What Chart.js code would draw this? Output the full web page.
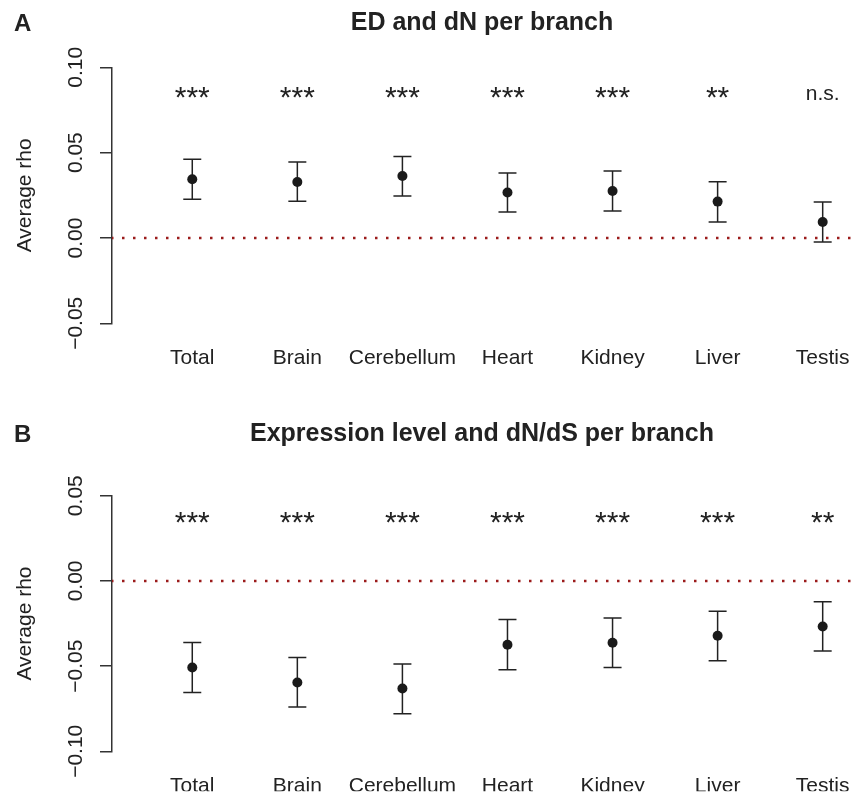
<!DOCTYPE html>
<html>
<head>
<meta charset="utf-8">
<script src="https://cdn.jsdelivr.net/npm/chart.js@4.4.0/dist/chart.umd.min.js"></script>
<style>
  body { margin: 0; background: #fff; }
  #wrap { position: relative; width: 852px; height: 795px; }
  canvas { position: absolute; left: 0; }
  #chartA { top: 0; }
  #chartB { top: 400px; }
</style>
</head>
<body>
<div id="wrap">
  <canvas id="chartA" width="852" height="400"></canvas>
  <canvas id="chartB" width="852" height="395"></canvas>
</div>
<script>
// ---- data ----
const categories = ["Total", "Brain", "Cerebellum", "Heart", "Kidney", "Liver", "Testis"];

// panel A: ED and dN
const edMean  = [0.0344, 0.0328, 0.0363, 0.0266, 0.0275, 0.0213, 0.0094];
const edLower = [0.0227, 0.0215, 0.0246, 0.0152, 0.0158, 0.0094, -0.0023];
const edUpper = [0.0461, 0.0445, 0.0477, 0.0380, 0.0392, 0.0330, 0.0211];
const edSig   = ["***", "***", "***", "***", "***", "**", "n.s."];
const edTicks = [-0.05, 0.00, 0.05, 0.10];

// panel B: expression level and dN/dS
const dnMean  = [-0.0508, -0.0596, -0.0631, -0.0375, -0.0363, -0.0322, -0.0268];
const dnLower = [-0.0655, -0.0740, -0.0780, -0.0522, -0.0508, -0.0469, -0.0412];
const dnUpper = [-0.0362, -0.0450, -0.0487, -0.0227, -0.0217, -0.0178, -0.0123];
const dnSig   = ["***", "***", "***", "***", "***", "***", "**"];
const dnTicks = [-0.10, -0.05, 0.00, 0.05];

const FONT = "'Liberation Sans', Arial, Helvetica, sans-serif";
const INK = "#222";
const X_MIN = -0.764, X_MAX = 6.279;

function fmt(v) {
  const s = Math.abs(v).toFixed(2);
  return (v < -1e-9 ? "\u2212" : "") + s;
}

// error bars, significance marks, rotated y labels, titles
const decorPlugin = {
  id: "decor",
  beforeDatasetsDraw(chart, args, opts) {
    const ctx = chart.ctx, xs = chart.scales.x, ys = chart.scales.y;
    ctx.save();
    ctx.strokeStyle = INK;
    ctx.lineWidth = 1.5;
    opts.lower.forEach((lo, i) => {
      const px = xs.getPixelForValue(i);
      const y1 = ys.getPixelForValue(lo);
      const y2 = ys.getPixelForValue(opts.upper[i]);
      ctx.beginPath();
      ctx.moveTo(px, y1); ctx.lineTo(px, y2);
      ctx.moveTo(px - 9, y1); ctx.lineTo(px + 9, y1);
      ctx.moveTo(px - 9, y2); ctx.lineTo(px + 9, y2);
      ctx.stroke();
    });
    ctx.restore();
  },
  afterDraw(chart, args, opts) {
    const ctx = chart.ctx, xs = chart.scales.x, ys = chart.scales.y;
    const area = chart.chartArea;
    ctx.save();
    ctx.fillStyle = INK;

    // significance marks
    const sy = ys.getPixelForValue(opts.sigLevel);
    ctx.textAlign = "center";
    ctx.textBaseline = "alphabetic";
    opts.sig.forEach((s, i) => {
      const px = xs.getPixelForValue(i);
      if (s.indexOf("*") >= 0) {
        ctx.font = "30px " + FONT;
        ctx.fillText(s, px, sy + 14);
      } else {
        ctx.font = "21px " + FONT;
        ctx.fillText(s, px, sy + 7);
      }
    });

    // rotated y tick labels
    ctx.font = "21px " + FONT;
    opts.ticks.forEach(v => {
      const py = ys.getPixelForValue(v);
      ctx.save();
      ctx.translate(82, py);
      ctx.rotate(-Math.PI / 2);
      ctx.textAlign = "center";
      ctx.textBaseline = "alphabetic";
      ctx.fillText(fmt(v), 0, 0);
      ctx.restore();
    });

    // y axis title
    ctx.save();
    ctx.translate(31, (area.top + area.bottom) / 2);
    ctx.rotate(-Math.PI / 2);
    ctx.textAlign = "center";
    ctx.textBaseline = "alphabetic";
    ctx.fillText("Average rho", 0, 0);
    ctx.restore();

    // panel title and letter
    ctx.font = "bold 25px " + FONT;
    ctx.textAlign = "center";
    ctx.textBaseline = "middle";
    ctx.fillText(opts.title, (area.left + area.right) / 2, opts.titleY);
    ctx.font = "bold 24px " + FONT;
    ctx.textAlign = "left";
    ctx.fillText(opts.letter, 14, opts.titleY + 1);
    ctx.restore();
  }
};

function makePanel(id, mean, lower, upper, sig, ticks, opt) {
  const points = mean.map((v, i) => ({ x: i, y: v }));
  new Chart(document.getElementById(id), {
    type: "scatter",
    data: {
      datasets: [
        {
          data: [{ x: X_MIN, y: 0 }, { x: X_MAX, y: 0 }],
          showLine: true,
          borderColor: "#9b1b1b",
          borderWidth: 2.5,
          borderDash: [2.5, 8.5],
          borderDashOffset: 1,
          pointRadius: 0
        },
        {
          data: points,
          pointRadius: 5,
          pointBackgroundColor: "#1a1a1a",
          pointBorderColor: "#1a1a1a",
          pointBorderWidth: 0,
          clip: false
        }
      ]
    },
    options: {
      responsive: false,
      animation: false,
      layout: {
        autoPadding: false,
        padding: { top: opt.padTop, bottom: opt.padBottom, left: 0, right: 0 }
      },
      plugins: {
        legend: { display: false },
        tooltip: { enabled: false },
        decor: {
          lower: lower, upper: upper, sig: sig, ticks: ticks,
          sigLevel: opt.sigLevel, title: opt.title, letter: opt.letter, titleY: opt.titleY
        }
      },
      scales: {
        x: {
          type: "linear",
          min: X_MIN,
          max: X_MAX,
          grid: { display: false, drawTicks: false },
          border: { display: false },
          afterFit(scale) {
            scale.height = opt.xHeight;
            scale.paddingLeft = 0;
            scale.paddingRight = 0;
          },
          ticks: {
            stepSize: 1,
            includeBounds: false,
            padding: 22,
            color: INK,
            font: { family: FONT, size: 21 },
            maxRotation: 0,
            autoSkip: false,
            callback: v => (Number.isInteger(v) && categories[v]) ? categories[v] : ""
          }
        },
        y: {
          min: ticks[0],
          max: ticks[ticks.length - 1],
          afterFit(scale) { scale.width = 112; },
          ticks: { stepSize: 0.05, display: false },
          grid: {
            drawOnChartArea: false,
            drawTicks: true,
            tickLength: 12,
            color: "#333",
            lineWidth: 1.5
          },
          border: { display: true, color: "#333", width: 1.5 }
        }
      }
    },
    plugins: [decorPlugin]
  });
}

makePanel("chartA", edMean, edLower, edUpper, edSig, edTicks, {
  padTop: 67.3, padBottom: 26.7, xHeight: 50,
  sigLevel: 0.085, title: "ED and dN per branch", letter: "A", titleY: 23
});

makePanel("chartB", dnMean, dnLower, dnUpper, dnSig, dnTicks, {
  padTop: 95.7, padBottom: 3.7, xHeight: 40,
  sigLevel: 0.037, title: "Expression level and dN/dS per branch", letter: "B", titleY: 34
});
</script>
</body>
</html>
